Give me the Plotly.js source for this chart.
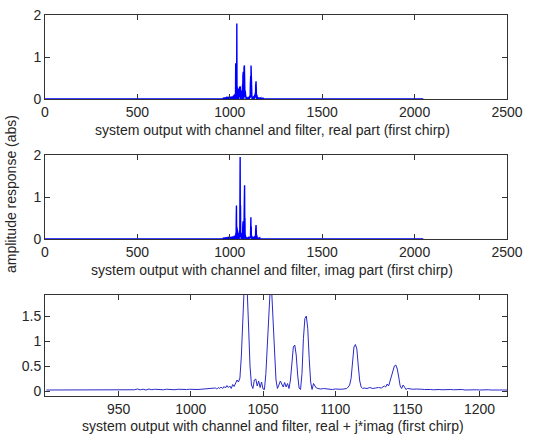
<!DOCTYPE html>
<html>
<head>
<meta charset="utf-8">
<script src="https://cdn.plot.ly/plotly-3.0.1.min.js"></script>
<style>html,body{margin:0;padding:0;background:#fff;}#chart{width:547px;height:441px;}</style>
</head>
<body>
<div id="chart"></div>
<script>
// ---- data ----
const realX = [0, 960, 968, 969, 976, 977, 984, 985, 992, 993,
 1000, 1001, 1008, 1009, 1015, 1016, 1020, 1021, 1024, 1025,
 1028, 1029, 1031, 1032, 1033, 1034, 1035, 1036, 1037, 1038,
 1039, 1040, 1041, 1042, 1043, 1044, 1045, 1046, 1047, 1048,
 1049, 1050, 1051, 1052, 1053, 1054, 1055, 1056, 1057, 1058,
 1059, 1060, 1061, 1062, 1063, 1064, 1065, 1066, 1067, 1068,
 1069, 1070, 1071, 1072, 1073, 1074, 1075, 1076, 1077, 1078,
 1079, 1080, 1081, 1082, 1083, 1084, 1085, 1086, 1087, 1088,
 1092, 1093, 1098, 1099, 1104, 1105, 1109, 1110, 1111, 1112,
 1113, 1114, 1115, 1116, 1117, 1118, 1119, 1120, 1125, 1126,
 1131, 1132, 1135, 1136, 1138, 1139, 1140, 1141, 1142, 1143,
 1144, 1145, 1146, 1147, 1150, 1151, 1158, 1159, 1168, 1169,
 1180, 1181, 2047];
const realY = [0, 0, 0.03, 0, 0.04, 0, 0.05, 0, 0.05, 0,
 0.05, 0, 0.06, 0, 0.06, 0, 0.08, 0, 0.1, 0,
 0.12, 0, 0.15, 0.85, 0.05, 0.2, 0, 0.5, 0.2, 1.8,
 0.1, 0.3, 0.05, 0.2, 0, 0.15, 0.25, 0, 0.2, 0.05,
 0.15, 0, 0.25, 0.1, 0.3, 0.05, 0.28, 0, 0.3, 0.1,
 0.22, 0, 0.15, 0.05, 0.2, 0, 0.15, 0.05, 0.2, 0,
 0.35, 0.1, 0.55, 0.2, 0.65, 0.05, 0.2, 0, 0.75, 0.3,
 0.8, 0.1, 0.7, 0.05, 0.2, 0, 0.1, 0.02, 0.06, 0,
 0.05, 0, 0.04, 0, 0.05, 0, 0.08, 0.02, 0.3, 0.1,
 0.55, 0.05, 0.8, 0.2, 0.3, 0, 0.08, 0, 0.06, 0,
 0.07, 0, 0.1, 0.02, 0.15, 0.05, 0.3, 0.05, 0.42, 0.1,
 0.3, 0, 0.1, 0, 0.05, 0, 0.04, 0, 0.03, 0,
 0.02, 0, 0];

const imagX = [0, 960, 968, 969, 976, 977, 984, 985, 992, 993,
 1000, 1001, 1008, 1009, 1015, 1016, 1020, 1021, 1025, 1026,
 1030, 1031, 1033, 1034, 1035, 1036, 1037, 1038, 1039, 1040,
 1041, 1042, 1043, 1044, 1045, 1046, 1047, 1048, 1049, 1050,
 1051, 1052, 1053, 1054, 1055, 1056, 1057, 1058, 1059, 1060,
 1061, 1062, 1063, 1064, 1065, 1066, 1067, 1068, 1069, 1070,
 1071, 1072, 1073, 1074, 1075, 1076, 1077, 1078, 1079, 1080,
 1081, 1082, 1083, 1084, 1085, 1087, 1088, 1094, 1095, 1102,
 1103, 1110, 1111, 1112, 1113, 1114, 1115, 1116, 1117, 1118,
 1119, 1126, 1127, 1134, 1135, 1138, 1139, 1140, 1141, 1142,
 1143, 1144, 1145, 1147, 1148, 1152, 1153, 1162, 1163, 2047];
const imagY = [0, 0, 0.03, 0, 0.04, 0, 0.04, 0, 0.05, 0,
 0.05, 0, 0.05, 0, 0.06, 0, 0.06, 0, 0.08, 0,
 0.05, 0, 0.15, 0, 0.5, 0.8, 0.1, 0.3, 0, 0.25,
 0.05, 0.1, 0, 0.12, 0.02, 0.15, 0, 0.1, 0.02, 0.05,
 0, 0.2, 0.6, 0.1, 1.5, 1.95, 0.3, 0.8, 0.05, 0.1,
 0, 0.15, 0.03, 0.12, 0, 0.1, 0.02, 0.08, 0, 0.3,
 0.05, 0.42, 0.1, 0.3, 0, 0.05, 0.4, 1.1, 0.2, 1.28,
 0.3, 0.5, 0, 0.1, 0, 0.06, 0, 0.04, 0, 0.05,
 0, 0.05, 0.15, 0.02, 0.45, 0.52, 0.05, 0.3, 0, 0.08,
 0, 0.05, 0, 0.06, 0, 0.08, 0, 0.2, 0.05, 0.33,
 0.1, 0.2, 0, 0.08, 0, 0.04, 0, 0.03, 0, 0];

const magX = [900, 910, 920, 930, 940, 950, 957, 959, 961, 963,
 965, 967, 969, 971, 973, 975, 977, 979, 981, 983,
 985, 987, 989, 991, 993, 995, 997, 999, 1001, 1003,
 1005, 1007, 1009, 1011, 1013, 1015, 1017, 1018, 1019, 1020,
 1021, 1022, 1023, 1024, 1025, 1026, 1027, 1028, 1029, 1030,
 1031, 1032, 1033, 1034, 1035, 1036, 1037, 1038, 1039, 1040,
 1041, 1042, 1043, 1044, 1045, 1046, 1047, 1048, 1049, 1050,
 1051, 1052, 1053, 1054, 1055, 1056, 1057, 1058, 1059, 1060,
 1061, 1062, 1063, 1064, 1065, 1066, 1067, 1068, 1069, 1070,
 1071, 1072, 1073, 1074, 1075, 1076, 1077, 1078, 1079, 1080,
 1081, 1082, 1083, 1084, 1085, 1086, 1087, 1088, 1090, 1092,
 1094, 1096, 1098, 1100, 1102, 1104, 1106, 1108, 1109, 1110,
 1111, 1112, 1113, 1114, 1115, 1116, 1117, 1118, 1119, 1120,
 1122, 1124, 1126, 1128, 1130, 1132, 1134, 1135, 1136, 1137,
 1138, 1139, 1140, 1141, 1142, 1143, 1144, 1145, 1146, 1147,
 1148, 1149, 1150, 1152, 1154, 1156, 1158, 1160, 1162, 1164,
 1166, 1168, 1170, 1172, 1174, 1176, 1178, 1180, 1182, 1184,
 1186, 1188, 1190, 1192, 1194, 1196, 1198, 1200, 1202, 1204,
 1206, 1208, 1210, 1212, 1214, 1216, 1219];
const magY = [0.02, 0.02, 0.02, 0.02, 0.02, 0.02, 0.02, 0.035, 0.025, 0.04,
 0.025, 0.035, 0.02, 0.04, 0.025, 0.035, 0.03, 0.04, 0.025, 0.035,
 0.03, 0.04, 0.025, 0.035, 0.03, 0.04, 0.03, 0.035, 0.03, 0.04,
 0.03, 0.035, 0.04, 0.03, 0.035, 0.04, 0.06, 0.04, 0.07, 0.05,
 0.08, 0.05, 0.09, 0.06, 0.11, 0.07, 0.1, 0.05, 0.13, 0.09,
 0.16, 0.22, 0.18, 0.26, 0.7, 1.5, 2.1, 2.3, 2.05, 1.3,
 0.5, 0.12, 0.05, 0.22, 0.24, 0.1, 0.2, 0.07, 0.18, 0.04,
 0.03, 0.35, 1.0, 1.7, 2.05, 2.0, 1.5, 0.8, 0.22, 0.05,
 0.12, 0.2, 0.14, 0.08, 0.17, 0.08, 0.15, 0.05, 0.22, 0.6,
 0.88, 0.92, 0.72, 0.32, 0.06, 0.03, 0.35, 1.05, 1.45, 1.5,
 1.25, 0.65, 0.18, 0.03, 0.15, 0.1, 0.06, 0.05, 0.04, 0.05,
 0.04, 0.04, 0.03, 0.04, 0.03, 0.035, 0.04, 0.05, 0.08, 0.12,
 0.25, 0.58, 0.88, 0.93, 0.84, 0.5, 0.2, 0.08, 0.05, 0.06,
 0.05, 0.07, 0.05, 0.06, 0.07, 0.06, 0.1, 0.08, 0.14, 0.1,
 0.2, 0.3, 0.42, 0.5, 0.52, 0.44, 0.28, 0.1, 0.05, 0.12,
 0.08, 0.03, 0.05, 0.04, 0.035, 0.04, 0.03, 0.035, 0.03, 0.035,
 0.03, 0.025, 0.035, 0.03, 0.025, 0.03, 0.025, 0.03, 0.025, 0.03,
 0.025, 0.03, 0.02, 0.025, 0.03, 0.02, 0.025, 0.02, 0.025, 0.02,
 0.025, 0.02, 0.025, 0.02, 0.02, 0.02, 0.02];

const topTicks = [0, 500, 1000, 1500, 2000, 2500];
const topYTicks = [0, 1, 2];
const botXTicks = [950, 1000, 1050, 1100, 1150, 1200];
const botYTicks = [0, 0.5, 1, 1.5];
const botYTickText = ['0', '0.5', '1', '1.5'];

const titleReal = 'system output with channel and filter, real part (first chirp)';
const titleImag = 'system output with channel and filter, imag part (first chirp)';
const titleMag = 'system output with channel and filter, real + j*imag (first chirp)';
const yLabel = 'amplitude response (abs)';

// ---- drawing ----
const W = 547, H = 441;
const px = v => v / W;
const py = v => 1 - v / H;
const FONT = {family: 'Liberation Sans, Arial, sans-serif', size: 14, color: '#262626'};

function axisStyle(extra) {
  return Object.assign({
    showline: true, linecolor: '#333', linewidth: 1, mirror: 'ticks',
    ticks: 'inside', ticklen: 5, tickcolor: '#333', tickwidth: 1,
    showgrid: false, zeroline: false, tickfont: FONT, fixedrange: true
  }, extra);
}

const xdom = [px(45), px(507)];

const traces = [
  {x: realX, y: realY, xaxis: 'x', yaxis: 'y', type: 'scatter', mode: 'lines',
   line: {color: '#0000ff', width: 1.4}, hoverinfo: 'skip'},
  {x: imagX, y: imagY, xaxis: 'x2', yaxis: 'y2', type: 'scatter', mode: 'lines',
   line: {color: '#0000ff', width: 1.4}, hoverinfo: 'skip'},
  {x: magX, y: magY, xaxis: 'x3', yaxis: 'y3', type: 'scatter', mode: 'lines',
   line: {color: '#2a2ac8', width: 1}, hoverinfo: 'skip'}
];

const layout = {
  width: W, height: H, showlegend: false,
  margin: {l: 0, r: 0, t: 0, b: 0},
  paper_bgcolor: '#fff', plot_bgcolor: '#fff',
  xaxis: axisStyle({domain: xdom, range: [0, 2500], tickvals: topTicks, anchor: 'y'}),
  yaxis: axisStyle({domain: [py(99), py(15)], range: [0, 2], tickvals: topYTicks, anchor: 'x'}),
  xaxis2: axisStyle({domain: xdom, range: [0, 2500], tickvals: topTicks, anchor: 'y2'}),
  yaxis2: axisStyle({domain: [py(239), py(155)], range: [0, 2], tickvals: topYTicks, anchor: 'x2'}),
  xaxis3: axisStyle({domain: xdom, range: [899, 1219], tickvals: botXTicks, anchor: 'y3'}),
  yaxis3: axisStyle({domain: [py(396), py(295)], range: [-0.1, 1.92], tickvals: botYTicks, ticktext: botYTickText, anchor: 'x3'}),
  annotations: [
    {text: titleReal, xref: 'paper', yref: 'paper', x: px(272), y: py(130), xanchor: 'center', yanchor: 'middle', showarrow: false, font: FONT},
    {text: titleImag, xref: 'paper', yref: 'paper', x: px(272), y: py(270), xanchor: 'center', yanchor: 'middle', showarrow: false, font: FONT},
    {text: titleMag, xref: 'paper', yref: 'paper', x: px(273), y: py(426), xanchor: 'center', yanchor: 'middle', showarrow: false, font: FONT},
    {text: yLabel, xref: 'paper', yref: 'paper', x: px(11), y: py(194), xanchor: 'center', yanchor: 'middle', textangle: -90, showarrow: false, font: FONT}
  ]
};

Plotly.newPlot('chart', traces, layout, {staticPlot: true, displayModeBar: false});
</script>
</body>
</html>
